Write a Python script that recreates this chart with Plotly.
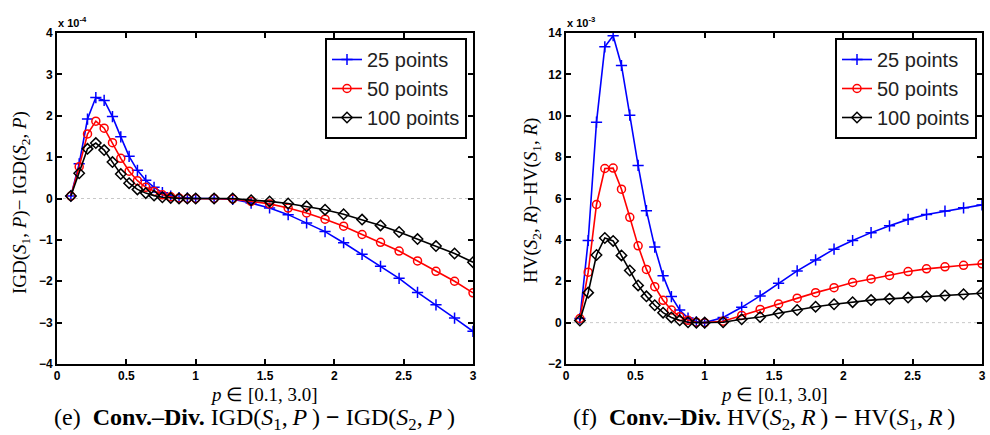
import plotly.graph_objects as go

# sample points of p
p_values = [0.1, 0.16, 0.22, 0.28, 0.34, 0.4, 0.46, 0.52, 0.58, 0.64, 0.7, 0.76,
            0.82, 0.88, 0.94, 1.0, 1.133, 1.267, 1.4, 1.533, 1.667, 1.8, 1.933,
            2.067, 2.2, 2.333, 2.467, 2.6, 2.733, 2.867, 3.0]

series_names = ["25 points", "50 points", "100 points"]

# IGD(S1,P) - IGD(S2,P), in units of 1e-4
igd_25 = [0.06, 0.84, 1.92, 2.44, 2.37, 1.98, 1.49, 1.02, 0.68, 0.44, 0.27, 0.14,
          0.06, 0.02, 0.01, 0.0, 0.0, -0.02, -0.11, -0.23, -0.39, -0.59, -0.80,
          -1.07, -1.35, -1.64, -1.93, -2.27, -2.57, -2.89, -3.21]
igd_50 = [0.06, 0.77, 1.56, 1.87, 1.70, 1.35, 0.97, 0.66, 0.43, 0.27, 0.17, 0.09,
          0.04, 0.01, 0.0, 0.0, 0.0, -0.01, -0.07, -0.13, -0.23, -0.35, -0.50,
          -0.67, -0.87, -1.06, -1.27, -1.51, -1.76, -2.00, -2.28]
igd_100 = [0.06, 0.61, 1.20, 1.34, 1.17, 0.88, 0.59, 0.37, 0.22, 0.13, 0.07, 0.03,
           0.01, 0.0, 0.0, 0.0, 0.0, 0.0, -0.04, -0.07, -0.12, -0.19, -0.27,
           -0.38, -0.51, -0.65, -0.81, -0.98, -1.15, -1.33, -1.54]

# HV(S2,R) - HV(S1,R), in units of 1e-3
hv_25 = [0.2, 3.97, 9.69, 13.33, 13.87, 12.43, 10.03, 7.60, 5.41, 3.65, 2.26, 1.26,
         0.61, 0.22, 0.04, 0.0, 0.25, 0.74, 1.29, 1.90, 2.50, 3.03, 3.55, 3.97,
         4.35, 4.68, 4.99, 5.23, 5.39, 5.55, 5.69]
hv_50 = [0.2, 2.44, 5.71, 7.45, 7.47, 6.45, 5.09, 3.71, 2.57, 1.74, 1.08, 0.61,
         0.29, 0.11, 0.02, 0.0, 0.07, 0.35, 0.64, 0.90, 1.18, 1.45, 1.69, 1.94,
         2.11, 2.28, 2.47, 2.60, 2.70, 2.77, 2.84]
hv_100 = [0.1, 1.45, 3.27, 4.09, 3.95, 3.25, 2.52, 1.80, 1.27, 0.84, 0.48, 0.25,
          0.11, 0.02, 0.0, 0.0, 0.02, 0.16, 0.27, 0.45, 0.61, 0.77, 0.89, 0.99,
          1.09, 1.15, 1.21, 1.26, 1.31, 1.37, 1.42]

x_ticks = [0, 0.5, 1, 1.5, 2, 2.5, 3]
igd_ticks = [-4, -3, -2, -1, 0, 1, 2, 3, 4]
hv_ticks = [-2, 0, 2, 4, 6, 8, 10, 12, 14]

colors = ["#0000ff", "#ff0000", "#000000"]
symbols = ["cross-thin-open", "circle-open", "diamond-open"]
msizes = [8, 8, 8]

fig = go.Figure()

for i, (name, ys) in enumerate(zip(series_names, [igd_25, igd_50, igd_100])):
    fig.add_trace(go.Scatter(
        x=p_values, y=ys, name=name, mode="lines+markers",
        xaxis="x", yaxis="y", legend="legend",
        line=dict(color=colors[i], width=1.6),
        marker=dict(symbol=symbols[i], size=msizes[i], color=colors[i],
                    line=dict(color=colors[i], width=1.5)),
    ))

for i, (name, ys) in enumerate(zip(series_names, [hv_25, hv_50, hv_100])):
    fig.add_trace(go.Scatter(
        x=p_values, y=ys, name=name, mode="lines+markers",
        xaxis="x2", yaxis="y2", legend="legend2",
        line=dict(color=colors[i], width=1.6),
        marker=dict(symbol=symbols[i], size=msizes[i], color=colors[i],
                    line=dict(color=colors[i], width=1.5)),
    ))

tick_font = dict(family="Liberation Sans", size=12, color="black", weight="bold")
axis_common = dict(
    showline=True, linecolor="black", linewidth=2, mirror="ticks",
    ticks="inside", ticklen=5, tickwidth=1.5, tickcolor="black",
    showgrid=False, zeroline=False, tickfont=tick_font, automargin=False,
)

legend_common = dict(
    xanchor="right", yanchor="top",
    bgcolor="white", bordercolor="black", borderwidth=2,
    font=dict(family="Liberation Sans", size=20, color="#222"),
    tracegroupgap=0,
)

y_dom = [1 - 364 / 435, 1 - 33 / 435]
fig.update_layout(
    width=990, height=435,
    margin=dict(l=0, r=0, t=0, b=0, pad=0, autoexpand=False),
    paper_bgcolor="white", plot_bgcolor="white",
    xaxis=dict(domain=[57 / 990, 473 / 990], range=[0, 3], tickvals=x_ticks,
               anchor="y", **axis_common),
    yaxis=dict(domain=y_dom, range=[-4, 4], tickvals=igd_ticks,
               anchor="x", **axis_common),
    xaxis2=dict(domain=[566 / 990, 982 / 990], range=[0, 3], tickvals=x_ticks,
                anchor="y2", **axis_common),
    yaxis2=dict(domain=y_dom, range=[-2, 14], tickvals=hv_ticks,
                anchor="x2", **axis_common),
    legend=dict(x=467 / 990, y=1 - 38 / 435, **legend_common),
    legend2=dict(x=977 / 990, y=1 - 38 / 435, **legend_common),
    showlegend=True,
)

# faint reference line at zero
for xr, yr in [("x", "y"), ("x2", "y2")]:
    fig.add_shape(type="line", xref=xr, yref=yr, x0=0, x1=3, y0=0, y1=0,
                  line=dict(color="#c8c8c8", width=1, dash="dot"), layer="below")

serif = "Liberation Serif"
annotations = [
    # exponent labels above the y axes
    dict(x=56 / 990, y=1 - 22 / 435, text="x 10<sup>-4</sup>",
         xanchor="left",
         font=dict(family="Liberation Sans", size=11, color="black", weight="bold")),
    dict(x=565 / 990, y=1 - 22 / 435, text="x 10<sup>-3</sup>",
         xanchor="left",
         font=dict(family="Liberation Sans", size=11, color="black", weight="bold")),
    # y axis titles
    dict(x=21 / 990, y=1 - 203 / 435, textangle=-90,
         text="IGD(<i>S</i><sub>1</sub>, <i>P</i>)\u2212 IGD(<i>S</i><sub>2</sub>, <i>P</i>)",
         font=dict(family=serif, size=19, color="black")),
    dict(x=532 / 990, y=1 - 201 / 435, textangle=-90,
         text="HV(<i>S</i><sub>2</sub>, <i>R</i>)\u2212HV(<i>S</i><sub>1</sub>, <i>R</i>)",
         font=dict(family=serif, size=19, color="black")),
    # x axis titles
    dict(x=264 / 990, y=1 - 394 / 435,
         text="<i>p</i> \u2208 [0.1, 3.0]",
         font=dict(family=serif, size=19, color="black")),
    dict(x=774 / 990, y=1 - 394 / 435,
         text="<i>p</i> \u2208 [0.1, 3.0]",
         font=dict(family=serif, size=19, color="black")),
    # captions
    dict(x=254 / 990, y=1 - 419 / 435,
         text="(e)\u00a0 <b>Conv.\u2013Div.</b> IGD(<i>S</i><sub>1</sub>,\u2009<i>P</i>\u2009) <b>\u2212</b> IGD(<i>S</i><sub>2</sub>,\u2009<i>P</i>\u2009)",
         font=dict(family=serif, size=24, color="black")),
    dict(x=764 / 990, y=1 - 419 / 435,
         text="(f)\u00a0 <b>Conv.\u2013Div.</b> HV(<i>S</i><sub>2</sub>,\u2009<i>R</i>\u2009) <b>\u2212</b> HV(<i>S</i><sub>1</sub>,\u2009<i>R</i>\u2009)",
         font=dict(family=serif, size=24, color="black")),
]
for a in annotations:
    a.setdefault("xref", "paper")
    a.setdefault("yref", "paper")
    a.setdefault("xanchor", "center")
    a.setdefault("yanchor", "middle")
    a.setdefault("showarrow", False)
fig.update_layout(annotations=annotations)

fig.write_html("out.html")
